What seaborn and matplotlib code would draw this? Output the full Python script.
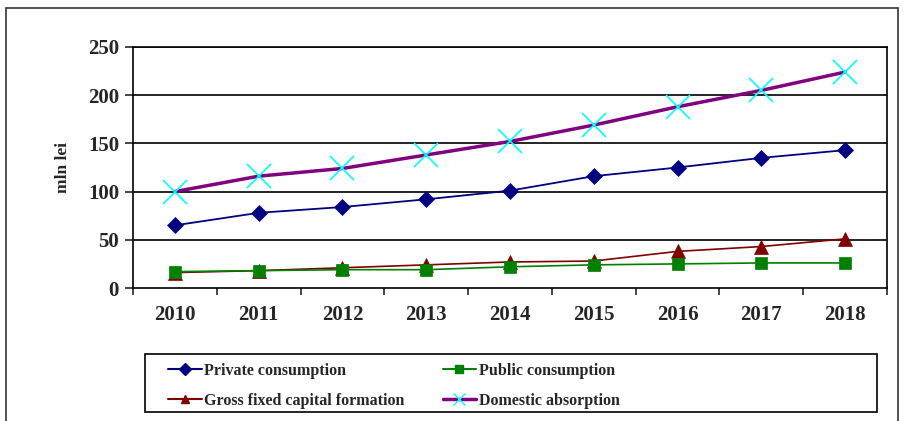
import numpy as np
import pandas as pd
import seaborn as sns
import matplotlib.pyplot as plt
from matplotlib.patches import Rectangle

years = [2010, 2011, 2012, 2013, 2014, 2015, 2016, 2017, 2018]
private_consumption = [65, 78, 84, 92, 101, 116, 125, 135, 143]
public_consumption = [17, 18, 19, 19, 22, 24, 25, 26, 26]
gross_fixed_capital = [16, 18, 21, 24, 27, 28, 38, 43, 51]
domestic_absorption = [100, 116, 124, 138, 152, 169, 188, 205, 224]
y_ticks = [0, 50, 100, 150, 200, 250]

sns.set_style("white")
plt.rcParams["font.family"] = ["Liberation Serif", "DejaVu Serif"]

W, H = 910, 421
fig = plt.figure(figsize=(9.1, 4.21), dpi=100)
ax = fig.add_axes([133 / W, 1 - 288 / H, (887 - 133) / W, (288 - 47) / H])

# outer chart border
fig.patches.append(Rectangle((6 / W, -0.01), 892 / W, 1.01 - 8 / H,
                             transform=fig.transFigure, fill=False,
                             edgecolor="#333333", linewidth=1.2))

for v in y_ticks[1:]:
    ax.axhline(v, color="black", linewidth=1.2, zorder=1)

series = [
    ("Private consumption", private_consumption, "#000080", "D", 8, 1.3, None),
    ("Gross fixed capital formation", gross_fixed_capital, "#800000", "^", 10, 1.2, None),
    ("Public consumption", public_consumption, "#008000", "s", 9, 1.2, None),
    ("Domestic absorption", domestic_absorption, "#800080", "x", 17, 2.5, "#00FFFF"),
]

handles = []
for name, vals, col, mk, ms, lw, mcol in series:
    df = pd.DataFrame({"year": years, "value": vals})
    sns.lineplot(data=df, x="year", y="value", ax=ax, color=col, linewidth=lw,
                 marker=mk, markersize=ms,
                 markerfacecolor=mcol or col, markeredgecolor=mcol or col,
                 markeredgewidth=1.2 if mk == "x" else 0.5, zorder=3)
    handles.append(plt.Line2D([], [], color=col, linewidth=1.5 if mk != "x" else 2.5,
                              marker=mk, markersize=6 if mk != "x" else 9,
                              markerfacecolor=mcol or col, markeredgecolor=mcol or col,
                              label=name))

ax.set_xlim(2009.5, 2018.5)
ax.set_ylim(0, 250)
ax.set_yticks(y_ticks)
ax.set_xticks(years)
ax.set_xticks([y + 0.5 for y in [2009] + years], minor=True)
ax.tick_params(axis="x", which="major", length=0, pad=12, labelsize=15)
ax.tick_params(axis="x", which="minor", length=5, width=1.2, direction="out", bottom=True)
ax.tick_params(axis="y", length=6, width=1.2, direction="out", left=True, labelsize=15, pad=4)
for lab in ax.get_xticklabels() + ax.get_yticklabels():
    lab.set_fontweight("bold")
ax.set_xlabel("")
ax.set_ylabel("mln lei", fontsize=12.5, fontweight="bold", labelpad=12)
for s in ax.spines.values():
    s.set_color("black")
    s.set_linewidth(1.2)

# legend box
fig.patches.append(Rectangle((145 / W, 1 - 412 / H), 732 / W, 58 / H,
                             transform=fig.transFigure, fill=False,
                             edgecolor="black", linewidth=1.2))
leg = fig.legend(handles=handles, ncol=2, loc="upper left",
                 bbox_to_anchor=(168 / W, 1 - 363 / H),
                 frameon=False, handlelength=2.1, handletextpad=0.15,
                 borderaxespad=0, borderpad=0, labelspacing=0.85,
                 columnspacing=2.4, prop={"weight": "bold", "size": 11.5})

fig.savefig("out.png", dpi=100)
